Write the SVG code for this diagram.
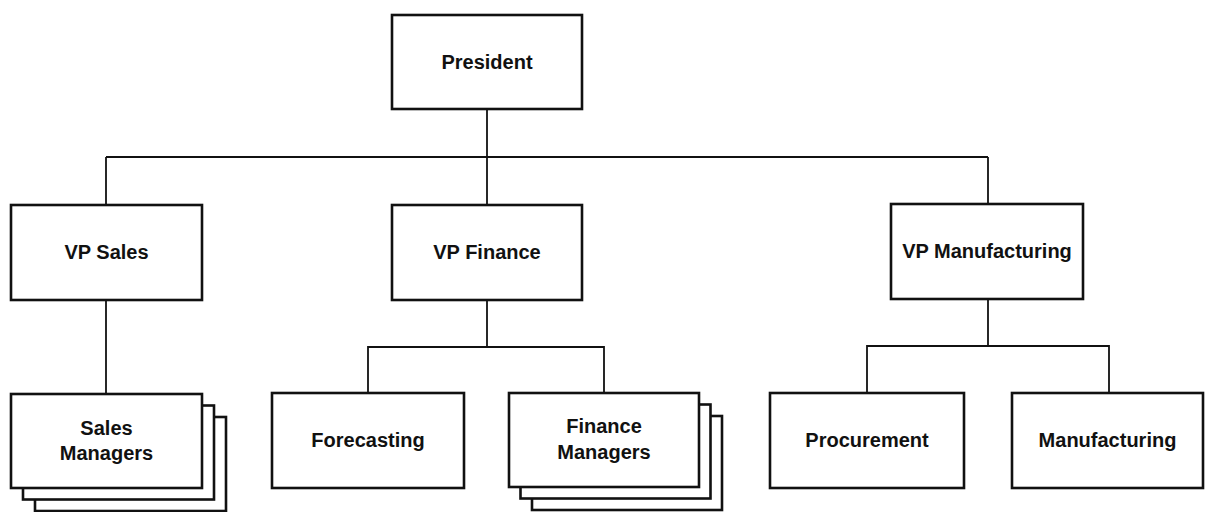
<svg xmlns="http://www.w3.org/2000/svg" width="1205" height="512" viewBox="0 0 1205 512">
<style>
.box{fill:#fff;stroke:#111;stroke-width:2.6}
.ln{fill:none;stroke:#111;stroke-width:1.8}
.t{font-family:"Liberation Sans",Arial,sans-serif;font-weight:bold;font-size:20px;fill:#111;text-anchor:middle}
</style>
<rect width="1205" height="512" fill="#fff"/>
<g id="connectors" class="ln">
<path d="M487,109 V205"/>
<path d="M106,157 H988"/>
<path d="M106,157 V205"/>
<path d="M988,157 V204"/>
<path d="M106,300 V394"/>
<path d="M487,300 V347"/>
<path d="M368,393 V347 H604 V393"/>
<path d="M988,299 V346"/>
<path d="M867,393 V346 H1109 V393"/>
</g>
<g id="president">
<rect class="box" x="392" y="15" width="190" height="94"/>
<text class="t" x="487" y="69">President</text>
</g>
<g id="vp-sales">
<rect class="box" x="11" y="205" width="191" height="95"/>
<text class="t" x="106.5" y="259">VP Sales</text>
</g>
<g id="vp-finance">
<rect class="box" x="392" y="205" width="190" height="95"/>
<text class="t" x="487" y="259">VP Finance</text>
</g>
<g id="vp-manufacturing">
<rect class="box" x="891" y="204" width="192" height="95"/>
<text class="t" x="987" y="258">VP Manufacturing</text>
</g>
<g id="sales-managers">
<rect class="box" x="35" y="417" width="191" height="94"/>
<rect class="box" x="23" y="405.5" width="191" height="94"/>
<rect class="box" x="11" y="394" width="191" height="94"/>
<text class="t" x="106.5" y="435">Sales</text>
<text class="t" x="106.5" y="460">Managers</text>
</g>
<g id="forecasting">
<rect class="box" x="272" y="393" width="192" height="95"/>
<text class="t" x="368" y="447">Forecasting</text>
</g>
<g id="finance-managers">
<rect class="box" x="532" y="416" width="190" height="94"/>
<rect class="box" x="520.5" y="404.5" width="190" height="94"/>
<rect class="box" x="509" y="393" width="190" height="94"/>
<text class="t" x="604" y="433">Finance</text>
<text class="t" x="604" y="459">Managers</text>
</g>
<g id="procurement">
<rect class="box" x="770" y="393" width="194" height="95"/>
<text class="t" x="867" y="447">Procurement</text>
</g>
<g id="manufacturing">
<rect class="box" x="1012" y="393" width="191" height="95"/>
<text class="t" x="1107.5" y="447">Manufacturing</text>
</g>
</svg>
